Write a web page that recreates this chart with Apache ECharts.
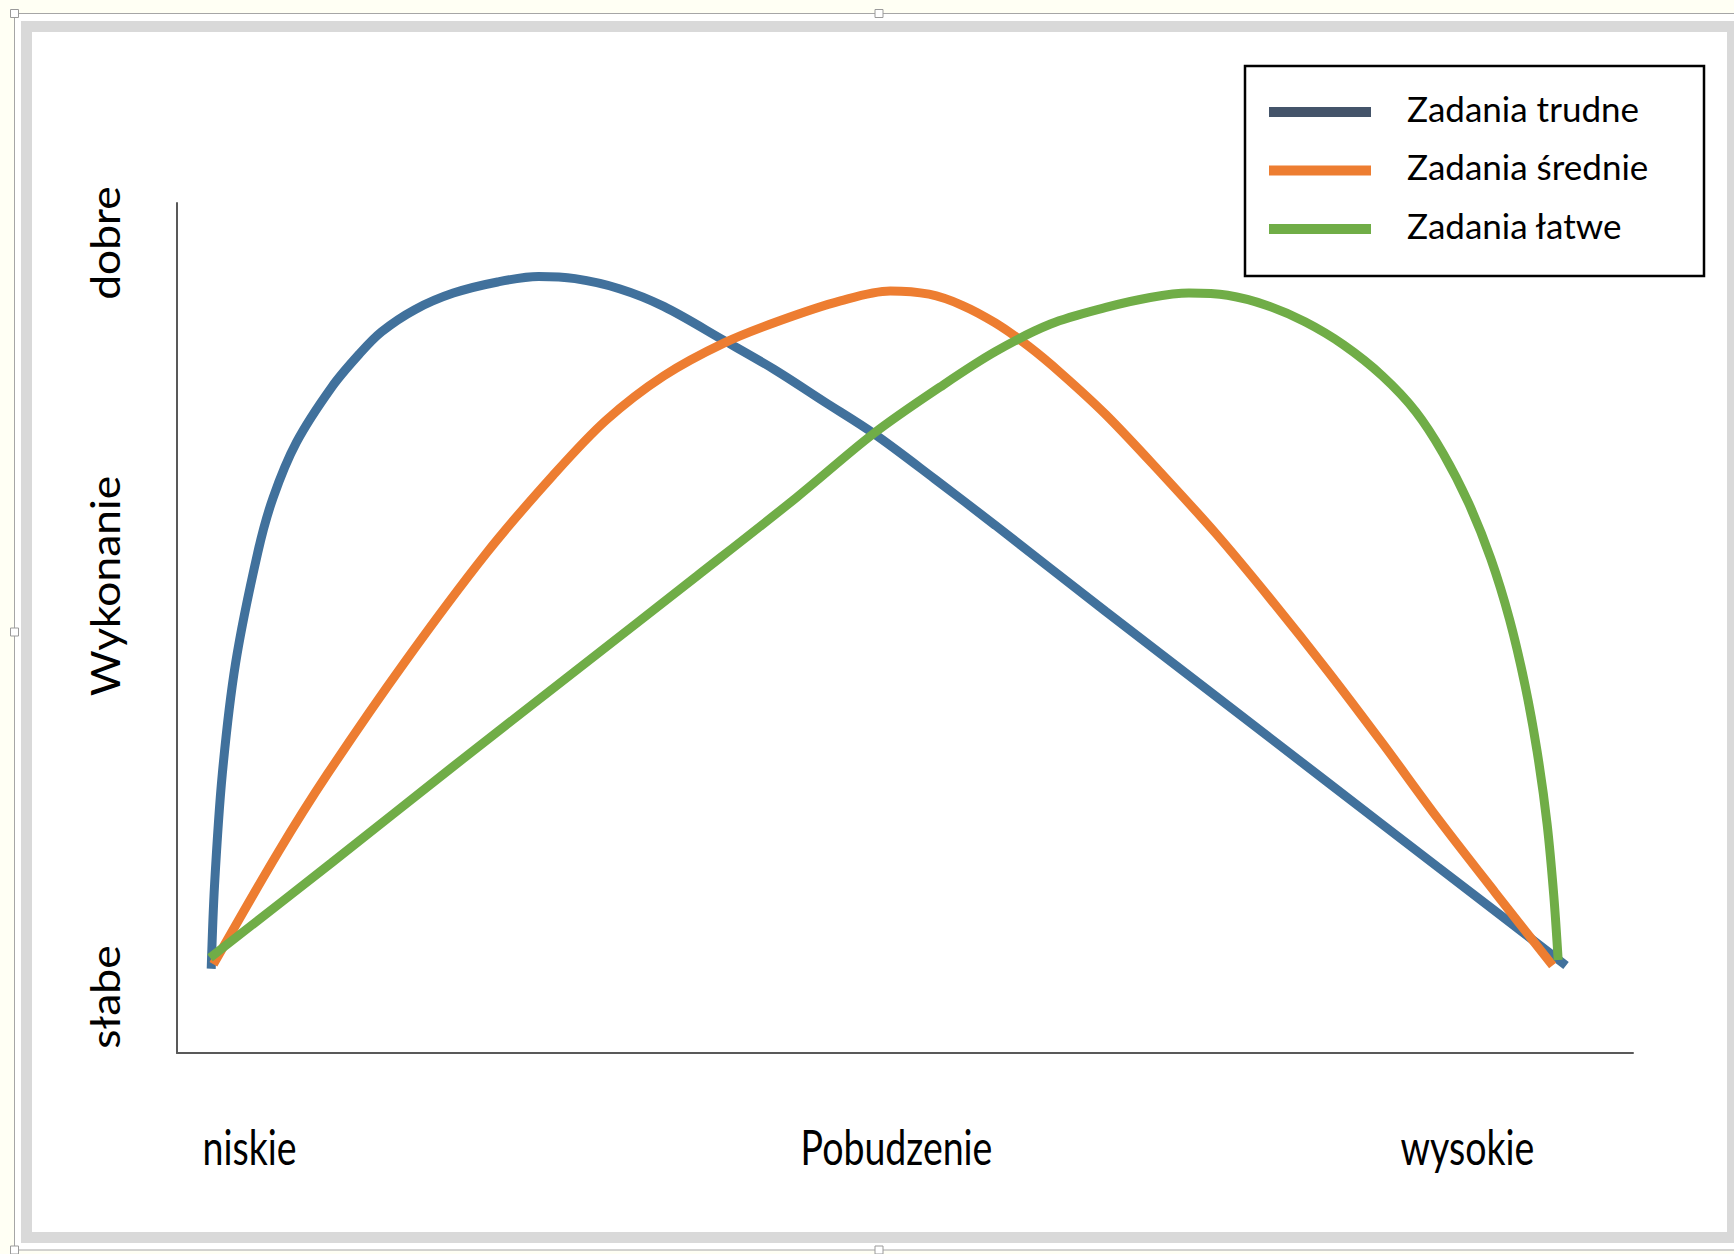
<!DOCTYPE html>
<html>
<head>
<meta charset="utf-8">
<script src="https://cdn.jsdelivr.net/npm/echarts@6/dist/echarts.min.js"></script>
<style>
html,body{margin:0;padding:0;background:#fffff4;}
#chart{width:1734px;height:1254px;}
</style>
</head>
<body>
<div id="chart"></div>
<script>
// Series names (legend)
const seriesNames = ['Zadania trudne', 'Zadania średnie', 'Zadania łatwe'];
// Axis labels
const yLabels = ['słabe', 'Wykonanie', 'dobre'];
const xLabels = ['niskie', 'Pobudzenie', 'wysokie'];

// Values: [pobudzenie 0-100, wykonanie 0-100]
const trudne = [
  [2.35,9.91],[2.58,19.80],[3.11,32.81],[4.02,45.82],[5.54,58.83],[6.60,65.33],[8.20,71.84],
  [10.63,78.35],[12.53,82.25],[14.05,84.85],[16.33,87.45],[18.98,89.40],[22.02,90.71],
  [24.83,91.35],[27.34,91.10],[30.38,89.92],[33.42,87.84],[37.59,83.81],[41.01,80.43],
  [44.43,76.65],[47.85,72.88],[52.03,67.55],[56.20,62.08],[63.80,51.93],[71.39,41.92],
  [78.99,31.90],[86.59,21.88],[95.40,10.30]
];
const srednie = [
  [2.50,10.43],[6.98,23.70],[10.33,32.81],[15.57,45.82],[21.26,58.83],[25.82,67.94],
  [29.47,74.44],[33.42,79.65],[37.59,83.55],[41.39,86.15],[45.57,88.49],[48.99,89.66],
  [51.65,89.27],[53.92,87.97],[56.20,85.89],[58.48,83.16],[60.76,79.91],[63.80,75.09],
  [67.60,68.20],[71.39,61.04],[75.19,53.23],[78.99,45.04],[82.79,36.45],[86.59,27.60],
  [90.53,18.89],[94.48,10.30]
];
const latwe = [
  [2.27,11.21],[10.63,22.40],[18.98,33.72],[27.34,44.91],[35.70,56.10],[42.53,65.33],
  [47.85,72.88],[52.41,78.35],[56.20,82.51],[60.00,85.76],[63.80,87.71],[66.84,88.88],
  [69.50,89.40],[72.15,89.14],[74.81,87.97],[77.47,86.02],[80.13,83.29],[82.79,79.65],
  [85.07,75.48],[86.96,70.54],[88.71,64.68],[90.23,58.18],[91.52,51.02],[92.59,43.22],
  [93.42,35.41],[94.10,26.95],[94.56,18.50],[94.86,10.95]
];

const lineColors = ['#41719c', '#ed7d31', '#70ad47'];
const legendColors = ['#44546a', '#ed7d31', '#70ad47'];

const chart = echarts.init(document.getElementById('chart'), null, {renderer: 'svg'});

const G = {left: 177, top: 203, width: 1456, height: 850};

const yLabelPos = [997, 586, 243];
const xLabelPos = [249.5, 896.5, 1467.5];

const graphics = [];
// selection frame + background
graphics.push({type:'rect', shape:{x:14.5, y:13.5, width:1730, height:1236.5}, style:{fill:'#ffffff', stroke:'#a6a6a6', lineWidth:1}, z:-10});
// gray chart border
graphics.push({type:'rect', shape:{x:26.5, y:26.5, width:1706, height:1211}, style:{fill:null, stroke:'#d9d9d9', lineWidth:11}, z:-9});
// handles
[[14.5,13.5],[879,13.5],[14.5,632],[879,1250],[14.5,1250]].forEach(p => {
  graphics.push({type:'rect', shape:{x:p[0]-4, y:p[1]-4, width:8, height:8}, style:{fill:'#ffffff', stroke:'#9a9a9a', lineWidth:1}, z:-8});
});
// legend box
graphics.push({type:'rect', shape:{x:1245, y:66, width:459, height:210}, style:{fill:'#ffffff', stroke:'#000000', lineWidth:2.5}, z:-5});
// y labels
yLabels.forEach((t, i) => {
  graphics.push({type:'text', x:104.5, y:yLabelPos[i], rotation:Math.PI/2, scaleX:1.11,
    style:{text:t, fill:'#000', font:'40px Lato', align:'center', verticalAlign:'middle'}});
});
// x labels
xLabels.forEach((t, i) => {
  graphics.push({type:'text', x:xLabelPos[i], y:1146, scaleY:1.28,
    style:{text:t, fill:'#000', font:'37.5px Lato', align:'center', verticalAlign:'middle'}});
});

const option = {
  backgroundColor: '#fffff4',
  animation: false,
  grid: {left: G.left, top: G.top, width: G.width, height: G.height, containLabel: false},
  xAxis: {type:'value', min:0, max:100, axisLine:{show:true, lineStyle:{color:'#595959', width:2}},
    axisTick:{show:false}, axisLabel:{show:false}, splitLine:{show:false}},
  yAxis: {type:'value', min:0, max:100, axisLine:{show:true, lineStyle:{color:'#595959', width:2}},
    axisTick:{show:false}, axisLabel:{show:false}, splitLine:{show:false}},
  legend: {
    orient:'vertical', left:1269, top:87.5, padding:0,
    itemWidth:102, itemHeight:19, itemGap:18.5,
    icon:'path://M0,0 M0,9 L102,9 L102,19 L0,19 Z',
    textStyle:{fontFamily:'Lato', fontSize:35, color:'#000', padding:[0,0,0,31], lineHeight:40},
    data: seriesNames.map((n, i) => ({name:n, itemStyle:{color:legendColors[i]}}))
  },
  graphic: {elements: graphics},
  series: [trudne, srednie, latwe].map((d, i) => ({
    name: seriesNames[i], type:'line', data:d, smooth:0.33, showSymbol:false, symbol:'none',
    lineStyle:{color:lineColors[i], width:9, cap:'butt'}, itemStyle:{color:lineColors[i]}
  }))
};
chart.setOption(option);
</script>
</body>
</html>
